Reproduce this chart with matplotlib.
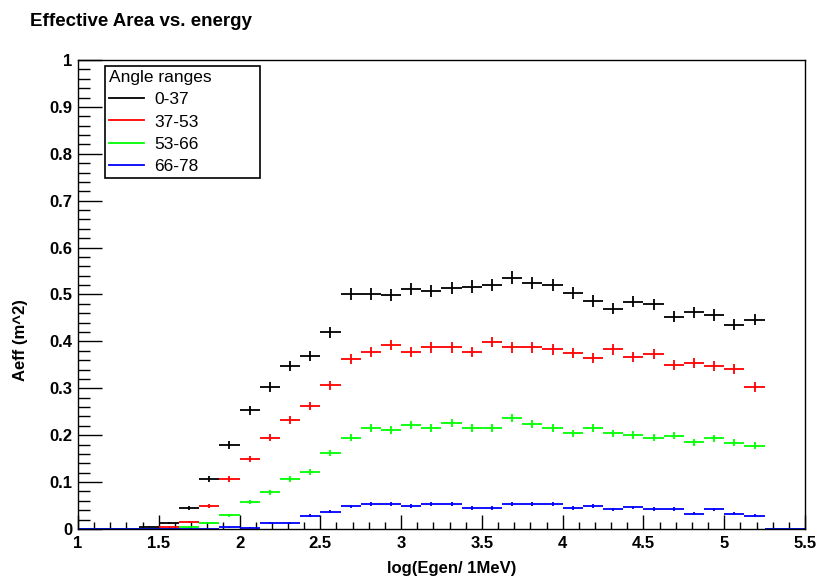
import matplotlib
matplotlib.use("Agg")
import matplotlib.pyplot as plt
from matplotlib.lines import Line2D
from matplotlib.ticker import MultipleLocator
import numpy as np

plt.rcParams['font.family'] = ['Liberation Sans', 'DejaVu Sans']

# histogram binning: 36 bins of log(Egen/1MeV) from 1 to 5.5
bin_lo, bin_hi, nbins = 1.0, 5.5, 36

labels = ["0-37", "37-53", "53-66", "66-78"]
colors = ["black", "red", "#00ff00", "blue"]

aeff_0_37 = [0, 0, 0, 0.005, 0.012, 0.045, 0.107, 0.179, 0.253, 0.303, 0.348, 0.369,
             0.419, 0.502, 0.502, 0.499, 0.511, 0.507, 0.513, 0.517, 0.521, 0.536, 0.525, 0.521,
             0.504, 0.486, 0.470, 0.485, 0.479, 0.453, 0.462, 0.456, 0.436, 0.446, 0, 0]
aeff_37_53 = [0, 0, 0, 0, 0.004, 0.014, 0.049, 0.107, 0.149, 0.195, 0.232, 0.262,
              0.306, 0.362, 0.378, 0.392, 0.378, 0.387, 0.387, 0.378, 0.399, 0.387, 0.387, 0.383,
              0.375, 0.365, 0.383, 0.366, 0.373, 0.350, 0.353, 0.348, 0.341, 0.303, 0, 0]
aeff_53_66 = [0, 0, 0, 0, 0, 0.004, 0.012, 0.029, 0.057, 0.078, 0.107, 0.121,
              0.162, 0.195, 0.216, 0.211, 0.222, 0.216, 0.225, 0.216, 0.216, 0.237, 0.224, 0.215,
              0.204, 0.216, 0.204, 0.200, 0.195, 0.199, 0.185, 0.193, 0.184, 0.178, 0, 0]
aeff_66_78 = [0, 0, 0, 0, 0, 0, 0, 0.004, 0.003, 0.012, 0.012, 0.028,
              0.037, 0.048, 0.053, 0.053, 0.049, 0.053, 0.053, 0.045, 0.045, 0.053, 0.053, 0.053,
              0.045, 0.049, 0.042, 0.046, 0.043, 0.043, 0.033, 0.042, 0.033, 0.028, 0, 0]
series = [aeff_0_37, aeff_37_53, aeff_53_66, aeff_66_78]

width = (bin_hi - bin_lo) / nbins
centers = bin_lo + width * (np.arange(nbins) + 0.5)

fig = plt.figure(figsize=(8.2, 5.78), dpi=100)
ax = fig.add_axes([78/820, 1-529/578, 727/820, 469/578])

for vals, c in zip(series, colors):
    v = np.array(vals)
    err = 0.018*np.sqrt(v)
    ax.errorbar(centers, v, xerr=width/2, yerr=err, fmt='none', ecolor=c,
                elinewidth=1.3, capsize=0)

ax.set_xlim(bin_lo, bin_hi)
ax.set_ylim(0, 1)
ax.xaxis.set_major_locator(MultipleLocator(0.5))
ax.xaxis.set_minor_locator(MultipleLocator(0.1))
ax.yaxis.set_major_locator(MultipleLocator(0.1))
ax.yaxis.set_minor_locator(MultipleLocator(0.02))
ax.xaxis.set_major_formatter(plt.FuncFormatter(lambda x, p: "%g" % round(x, 2)))
ax.yaxis.set_major_formatter(plt.FuncFormatter(lambda y, p: "%g" % round(y, 2)))
ax.tick_params(axis='x', which='major', direction='in', length=10, width=1, pad=5,
               labelsize=12)
ax.tick_params(axis='x', which='minor', direction='in', length=5, width=1)
ax.tick_params(axis='y', which='major', direction='in', length=17, width=1, pad=4,
               labelsize=12)
ax.tick_params(axis='y', which='minor', direction='in', length=8.5, width=1)
for lab in ax.get_xticklabels() + ax.get_yticklabels():
    lab.set_fontweight('bold')
for s in ax.spines.values():
    s.set_linewidth(1)

fig.text(452/820, 1-568/578, "log(Egen/ 1MeV)", ha='center', va='center',
         fontsize=12, fontweight='bold')
fig.text(21/820, 1-340/578, "Aeff (m^2)", ha='center', va='center', rotation=90,
         fontsize=12, fontweight='bold')
fig.text(30/820, 1-21/578, "Effective Area vs. energy", ha='left', va='center',
         fontsize=13.5, fontweight='bold')

handles = [Line2D([], [], color=c, lw=1.3) for c in colors]
leg = ax.legend(handles, labels, title="Angle ranges", loc='upper left',
                bbox_to_anchor=(27/727, 1-6/469-0.01, 155/727, 0.01), mode='expand',
                borderaxespad=0, fancybox=False, framealpha=1, edgecolor='black',
                fontsize=12.5, title_fontsize=12.5, handlelength=2.0, handletextpad=0.6,
                labelspacing=0.4, borderpad=0.25, alignment='left')
leg.get_frame().set_linewidth(1.2)

fig.savefig("out.png", dpi=100)
